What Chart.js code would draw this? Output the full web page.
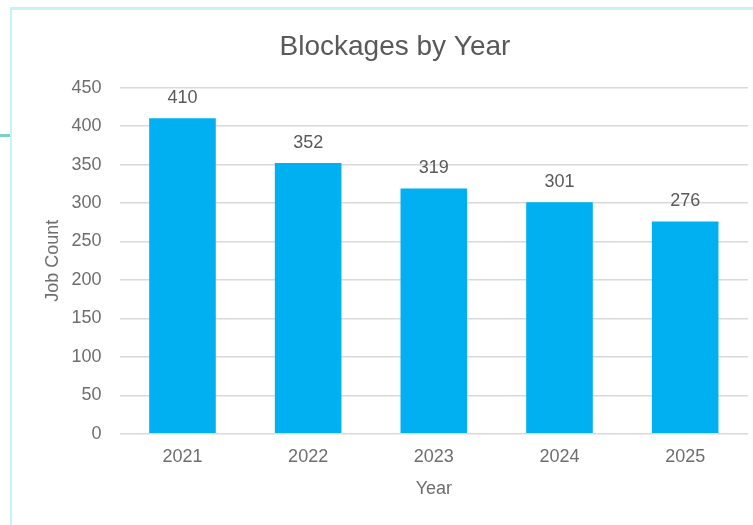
<!DOCTYPE html>
<html>
<head>
<meta charset="utf-8">
<script src="https://cdn.jsdelivr.net/npm/chart.js@4"></script>
<style>
  html, body { margin: 0; padding: 0; background: #fff; }
  #wrap { position: relative; width: 753px; height: 525px; overflow: hidden; }
  .marco { position: absolute; left: 10px; top: 7px; right: -5px; bottom: -5px;
           border-top: 3px solid #c8f2fb; border-left: 2px solid #c8f2fb; }
  .linea { position: absolute; left: 0; top: 134px; width: 10px; height: 3px; background: #7fd1c2; }
  canvas { position: absolute; left: 0; top: 0; }
</style>
</head>
<body>
<div id="wrap">
  <div class="marco"></div>
  <div class="linea"></div>
  <canvas id="grafico" width="753" height="525"></canvas>
</div>
<script>
// Datos del gráfico
const anios = ["2021", "2022", "2023", "2024", "2025"];
const bloqueos = [410, 352, 319, 301, 276];
const ticksY = [0, 50, 100, 150, 200, 250, 300, 350, 400, 450];

const gris = "#595959";
const grisClaro = "#6e6e6e";
const fuente = "'Liberation Sans', Arial, sans-serif";

// Etiquetas de valor encima de cada barra
const etiquetasValor = {
  id: "etiquetasValor",
  afterDatasetsDraw(chart) {
    const ctx = chart.ctx;
    const meta = chart.getDatasetMeta(0);
    ctx.save();
    ctx.font = "18px " + fuente;
    ctx.fillStyle = gris;
    ctx.textAlign = "center";
    ctx.textBaseline = "middle";
    meta.data.forEach((barra, i) => {
      ctx.fillText(String(bloqueos[i]), barra.x, barra.y - 20);
    });
    ctx.restore();
  }
};

new Chart(document.getElementById("grafico").getContext("2d"), {
  type: "bar",
  data: {
    labels: anios,
    datasets: [{
      label: "Job Count",
      data: bloqueos,
      backgroundColor: "#00b0f0",
      borderWidth: 0,
      barPercentage: 0.53,
      categoryPercentage: 1
    }]
  },
  options: {
    responsive: false,
    animation: false,
    layout: { padding: { left: 42, right: 5, top: 0, bottom: 25 } },
    plugins: {
      legend: { display: false },
      tooltip: { enabled: false },
      title: {
        display: true,
        text: "Blockages by Year",
        color: gris,
        font: { family: fuente, size: 28, weight: "normal" },
        padding: { top: 30, bottom: 24 }
      }
    },
    scales: {
      x: {
        grid: { display: false, drawTicks: false },
        border: { display: false },
        ticks: { color: grisClaro, font: { family: fuente, size: 18 }, padding: 12 },
        title: {
          display: true,
          text: "Year",
          color: grisClaro,
          font: { family: fuente, size: 18 },
          padding: { top: -1, bottom: 0 }
        }
      },
      y: {
        min: 0,
        max: 450,
        afterBuildTicks(scale) {
          scale.ticks = ticksY.map(v => ({ value: v }));
        },
        grid: { color: "#d9d9d9", lineWidth: 1.5, drawTicks: false },
        border: { display: false },
        ticks: { color: grisClaro, font: { family: fuente, size: 18 }, padding: 18 },
        title: {
          display: true,
          text: "Job Count",
          color: grisClaro,
          font: { family: fuente, size: 18 },
          padding: { top: 0, bottom: -10 }
        }
      }
    }
  },
  plugins: [etiquetasValor]
});
</script>
</body>
</html>
